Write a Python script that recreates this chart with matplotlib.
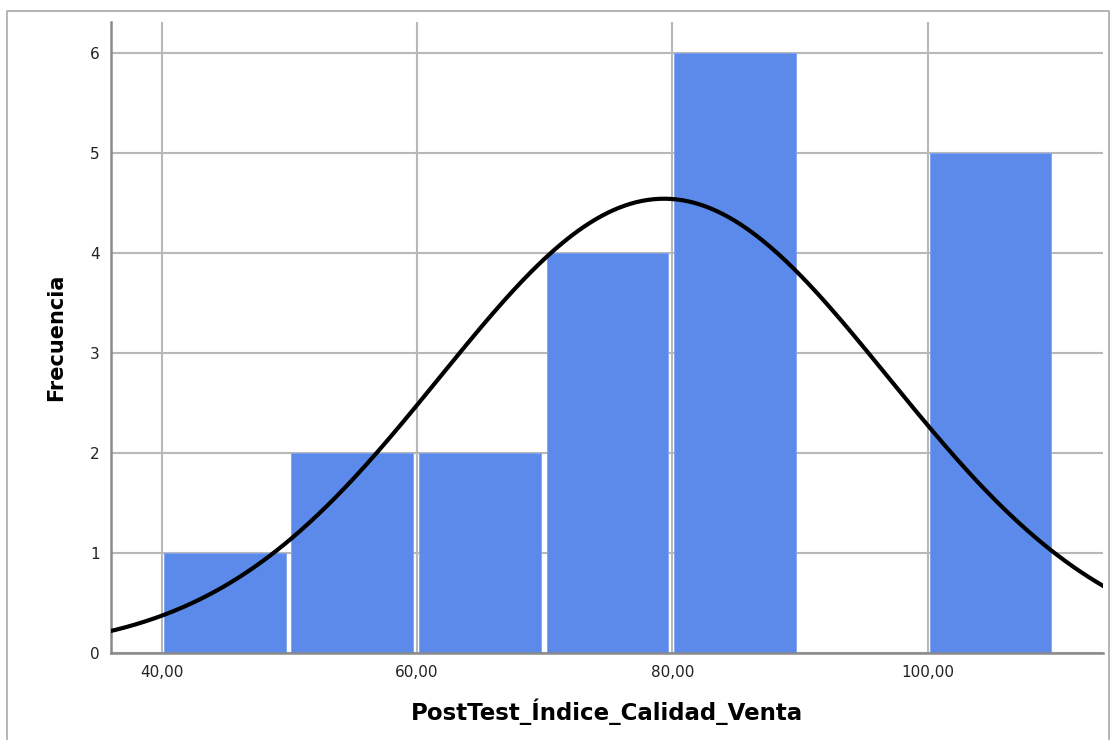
import numpy as np
import matplotlib
matplotlib.use("Agg")
import matplotlib.pyplot as plt
from matplotlib.lines import Line2D

plt.rcParams["font.family"] = ["DejaVu Sans"]

# Histogram data: frequency per class interval
bin_edges = [40, 50, 60, 70, 80, 90, 100, 110]
counts = [1, 2, 2, 4, 6, 0, 5]
x_ticks = [40, 60, 80, 100]
x_tick_labels = ["40,00", "60,00", "80,00", "100,00"]
y_ticks = [0, 1, 2, 3, 4, 5, 6]

# Normal curve parameters of the variable
mean_value = 79.35
std_value = 17.57
n_total = sum(counts)
bin_width = 10

bar_color = "#5B8AEA"
grid_color = "#b8b8b8"
spine_color = "#8a8a8a"

fig = plt.figure(figsize=(11.1, 7.4), dpi=100)
ax = fig.add_axes([0.1, 0.118, 0.8937, 0.8524])

# Bars, slightly inset from the class limits
lefts = np.array(bin_edges[:-1], dtype=float)
widths = np.diff(bin_edges).astype(float)
ax.bar(lefts + 0.15, counts, width=widths - 0.45, align="edge",
       color=bar_color, edgecolor="#7ea4ef", linewidth=0.6, zorder=2)

# Fitted normal curve scaled to frequencies
xs = np.linspace(30, 120, 600)
ys = n_total * bin_width / (std_value * np.sqrt(2 * np.pi)) * np.exp(-0.5 * ((xs - mean_value) / std_value) ** 2)
ax.plot(xs, ys, color="black", linewidth=3.0, zorder=3, solid_capstyle="round")

ax.set_xlim(36.03, 113.74)
ax.set_ylim(0, 6.31)

ax.set_xticks(x_ticks)
ax.set_xticklabels(x_tick_labels)
ax.set_yticks(y_ticks)
ax.tick_params(axis="both", length=0, labelsize=11, labelcolor="#222222")
ax.tick_params(axis="x", pad=9)
ax.tick_params(axis="y", pad=8)

ax.grid(True, color=grid_color, linewidth=1.5, zorder=0)
ax.set_axisbelow(True)

for side in ("top", "right"):
    ax.spines[side].set_visible(False)
for side in ("left", "bottom"):
    ax.spines[side].set_color(spine_color)
    ax.spines[side].set_linewidth(1.8)

ax.set_xlabel("PostTest_Índice_Calidad_Venta", fontsize=16.5, fontweight="bold", labelpad=13)
ax.set_ylabel("Frecuencia", fontsize=15, fontweight="bold", labelpad=17)

# Outer frame around the chart
frame_color = "#a8a8a8"
x0, x1 = 7 / 1110, 1109 / 1110
ytop = 1 - 11 / 740
fig.add_artist(Line2D([x0, x0, x1, x1], [-0.01, ytop, ytop, -0.01],
                      transform=fig.transFigure, color=frame_color, linewidth=1.2))

fig.savefig("out.png", dpi=100)
